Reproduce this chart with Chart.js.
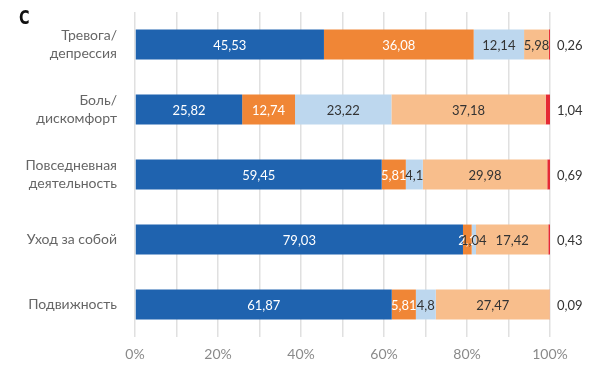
<!DOCTYPE html>
<html>
<head>
<meta charset="utf-8">
<script src="https://cdn.jsdelivr.net/npm/chart.js@4"></script>
<style>
  html, body { margin: 0; padding: 0; background: #fff; }
  #wrap { position: relative; width: 600px; height: 369px; }
  #panel { position: absolute; left: 19px; top: 5px; font: bold 20px "DejaVu Sans Condensed", "Liberation Sans Narrow", sans-serif; color: #111; transform: scaleX(0.8); transform-origin: left top; }
</style>
</head>
<body>
<div id="wrap">
  <canvas id="chart" width="600" height="369"></canvas>
  <div id="panel">С</div>
</div>
<script>
// Categories (top to bottom)
const categories = [
    ['Тревога/', 'депрессия'],
    ['Боль/', 'дискомфорт'],
    ['Повседневная', 'деятельность'],
    'Уход за собой',
    'Подвижность'
];

// Series values, percent
const level1 = [45.53, 25.82, 59.45, 79.03, 61.87];
const level2 = [36.08, 12.74, 5.81, 2.1, 5.81];
const level3 = [12.14, 23.22, 4.1, 1.04, 4.8];
const level4 = [5.98, 37.18, 29.98, 17.42, 27.47];
const level5 = [0.26, 1.04, 0.69, 0.43, 0.09];

const tickValues = [0, 20, 40, 60, 80, 100];

const fontFamily = 'Lato, "Open Sans", sans-serif';

function fmt(v) {
    return String(v).replace('.', ',');
}

// Draws the numbers on the bars (last series goes outside the plot)
const valueLabels = {
    id: 'valueLabels',
    afterDatasetsDraw(chart) {
        const ctx = chart.ctx;
        const area = chart.chartArea;
        ctx.save();
        ctx.font = '13px ' + fontFamily;
        ctx.textBaseline = 'middle';
        chart.data.datasets.forEach((ds, i) => {
            const meta = chart.getDatasetMeta(i);
            meta.data.forEach((bar, j) => {
                const text = fmt(ds.data[j]);
                if (i === 4) {
                    ctx.textAlign = 'left';
                    ctx.fillStyle = '#333';
                    ctx.fillText(text, area.right + 7, bar.y + 1);
                } else {
                    ctx.textAlign = 'center';
                    ctx.fillStyle = ds.labelColor;
                    ctx.fillText(text, (bar.x + bar.base) / 2, bar.y + 1);
                }
            });
        });
        ctx.restore();
    }
};

new Chart(document.getElementById('chart'), {
    type: 'bar',
    data: {
        labels: categories,
        datasets: [
            { data: level1, backgroundColor: '#1f63af', labelColor: '#fff' },
            { data: level2, backgroundColor: '#f08636', labelColor: '#fff' },
            { data: level3, backgroundColor: '#bdd7ee', labelColor: '#333' },
            { data: level4, backgroundColor: '#f8be8c', labelColor: '#333' },
            { data: level5, backgroundColor: '#e52a34', labelColor: '#333' }
        ]
    },
    options: {
        indexAxis: 'y',
        responsive: false,
        animation: false,
        layout: { padding: { top: 12, right: 50, left: 0, bottom: 0 } },
        datasets: {
            bar: { categoryPercentage: 0.5, barPercentage: 0.92, borderWidth: 0 }
        },
        plugins: {
            legend: { display: false },
            tooltip: { enabled: false }
        },
        scales: {
            x: {
                stacked: true,
                min: 0,
                max: 100,
                border: { display: false },
                grid: { color: '#e0e0e0', drawTicks: false, lineWidth: 1.5 },
                afterFit: s => { s.height = 32; s.paddingLeft = 0; s.paddingRight = 0; },
                afterBuildTicks: s => {
                    s.ticks = [];
                    for (let v = 0; v <= 100; v += 10) s.ticks.push({ value: v });
                },
                ticks: {
                    autoSkip: false,
                    maxRotation: 0,
                    padding: 9,
                    color: '#8a8a8a',
                    font: { family: fontFamily, size: 14 },
                    callback: v => tickValues.includes(v) ? v + '%' : ''
                }
            },
            y: {
                stacked: true,
                border: { display: false },
                grid: { display: false },
                afterFit: s => { s.width = 135; s.paddingTop = 0; s.paddingBottom = 0; },
                ticks: {
                    padding: 10,
                    color: '#666',
                    font: { family: fontFamily, size: 14, lineHeight: 1.25 }
                }
            }
        }
    },
    plugins: [valueLabels]
});
</script>
</body>
</html>
